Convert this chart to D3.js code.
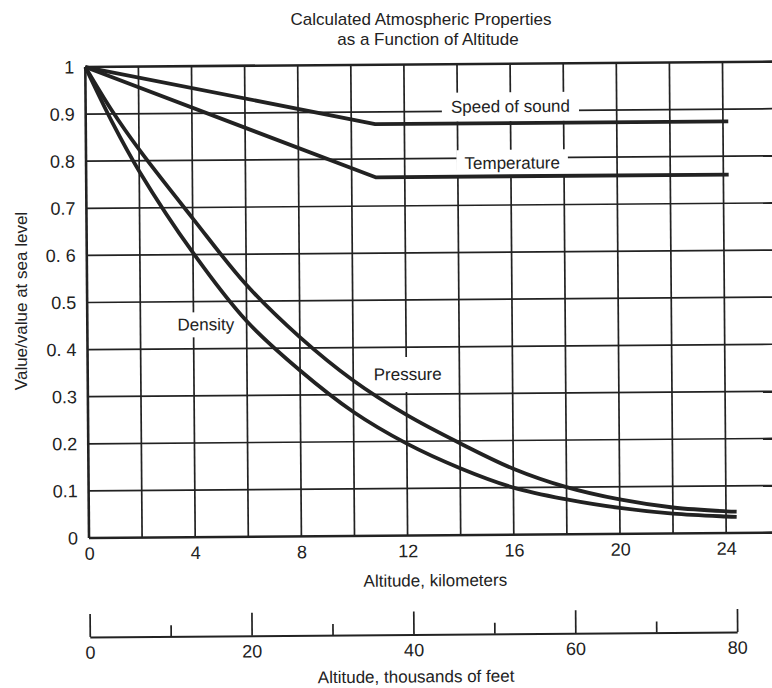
<!DOCTYPE html>
<html>
<head>
<meta charset="utf-8">
<script src="https://cdn.jsdelivr.net/npm/d3@7"></script>
<style>
  body { margin: 0; background: #fff; }
  svg { display: block; font-family: "Liberation Sans", Arial, Helvetica, sans-serif; }
</style>
</head>
<body>
<svg id="chart" width="772" height="688"></svg>
<script>
// values (value / value at sea level)
var altitudeKm = [0, 1, 2, 4, 6, 8, 10, 12, 14, 16, 18, 20, 22, 24, 24.4];
var pressure   = [1.0, 0.906, 0.824, 0.677, 0.535, 0.423, 0.33, 0.256, 0.195, 0.14, 0.10, 0.073, 0.055, 0.046, 0.045];
var density    = [1.0, 0.882, 0.778, 0.604, 0.458, 0.352, 0.263, 0.195, 0.142, 0.10, 0.074, 0.055, 0.042, 0.035, 0.034];

var plateauKm    = [0, 10.9, 24.2];
var speedOfSound = [1.0, 0.874, 0.874];
var temperature  = [1.0, 0.761, 0.761];

var yTicks      = [0, 0.1, 0.2, 0.3, 0.4, 0.5, 0.6, 0.7, 0.8, 0.9, 1];
var yTickLabels = ['0', '0.1', '0.2', '0.3', '0. 4', '0.5', '0. 6', '0.7', '0.8', '0.9', '1'];
var kmGrid      = [0, 2, 4, 6, 8, 10, 12, 14, 16, 18, 20, 22, 24, 26];
var kmTicks     = [0, 4, 8, 12, 16, 20, 24];
var feetMajor   = [0, 20, 40, 60, 80];
var feetMinor   = [10, 30, 50, 70];

var svg = d3.select('#chart');
var ink = '#222';

var x = d3.scaleLinear().domain([0, 27]).range([89, 89 + 27 * 26.55]);
var y = d3.scaleLinear().domain([0, 1]).range([538, 67]);
var xFeet = d3.scaleLinear().domain([0, 80]).range([x(0), x(80 * 0.3048)]);

// the scan is a little tilted, so the whole plot turns round its origin
var plot = svg.append('g')
    .attr('transform', 'rotate(-0.45,' + x(0) + ',' + y(0) + ')');

// grid
plot.selectAll('.hgrid')
    .data(yTicks)
    .enter().append('line')
    .attr('class', 'hgrid')
    .attr('x1', x(0)).attr('x2', x(27))
    .attr('y1', function(d) { return y(d); })
    .attr('y2', function(d) { return y(d); })
    .style('stroke', ink)
    .style('stroke-width', function(d) { return (d === 0 || d === 1) ? 2.6 : 1.7; });

plot.selectAll('.vgrid')
    .data(kmGrid)
    .enter().append('line')
    .attr('class', 'vgrid')
    .attr('x1', function(d) { return x(d); })
    .attr('x2', function(d) { return x(d); })
    .attr('y1', y(0)).attr('y2', y(1))
    .style('stroke', ink)
    .style('stroke-width', function(d) { return d === 0 ? 2.6 : 1.7; });

// curve labels on white patches
var notes = [
  {text: 'Speed of sound', km: 16.0, v: 0.91, padX: 9, padY: 5},
  {text: 'Temperature', km: 16.05, v: 0.79, padX: 8, padY: 4},
  {text: 'Density', km: 4.46, v: 0.452, padX: 5, padY: 3},
  {text: 'Pressure', km: 12.05, v: 0.343, padX: 5, padY: 8}
];
var noteG = plot.selectAll('.note')
    .data(notes)
    .enter().append('g')
    .attr('class', 'note')
    .attr('transform', function(d) { return 'translate(' + x(d.km) + ',' + y(d.v) + ')'; });
noteG.append('rect').style('fill', '#fff');
noteG.append('text')
    .attr('text-anchor', 'middle')
    .attr('dy', '0.36em')
    .style('font-size', '17px')
    .style('fill', ink)
    .text(function(d) { return d.text; });
noteG.each(function(d) {
  var g = d3.select(this);
  var b = g.select('text').node().getBBox();
  g.select('rect')
    .attr('x', b.x - d.padX).attr('y', b.y - d.padY)
    .attr('width', b.width + 2 * d.padX).attr('height', b.height + 2 * d.padY);
});

// curves
var smooth = d3.line()
    .x(function(d, i) { return x(altitudeKm[i]); })
    .y(function(d) { return y(d); })
    .curve(d3.curveCatmullRom.alpha(0.5));
var straight = d3.line()
    .x(function(d, i) { return x(plateauKm[i]); })
    .y(function(d) { return y(d); });

[pressure, density].forEach(function(s) {
  plot.append('path').attr('d', smooth(s))
      .style('fill', 'none').style('stroke', ink).style('stroke-width', 3.8);
});
[speedOfSound, temperature].forEach(function(s) {
  plot.append('path').attr('d', straight(s))
      .style('fill', 'none').style('stroke', ink).style('stroke-width', 3.8)
      .style('stroke-linejoin', 'round');
});

// axes
function styleAxis(g, size) {
  g.select('.domain').remove();
  g.selectAll('text').style('font-size', size + 'px').style('fill', ink)
      .style('font-family', '"Liberation Sans", Arial, Helvetica, sans-serif');
}

plot.append('g')
    .attr('transform', 'translate(' + x(0) + ',0)')
    .call(d3.axisLeft(y).tickValues(yTicks).tickSize(0).tickPadding(11)
          .tickFormat(function(d, i) { return yTickLabels[i]; }))
    .call(styleAxis, 18);

plot.append('g')
    .attr('transform', 'translate(0,' + y(0) + ')')
    .call(d3.axisBottom(x).tickValues(kmTicks).tickSize(0).tickPadding(9))
    .call(styleAxis, 18);

plot.append('text')
    .attr('x', 435).attr('y', 589)
    .attr('text-anchor', 'middle')
    .style('font-size', '17px').style('fill', ink)
    .text('Altitude, kilometers');

// second scale, thousands of feet
var feetY = 637;
plot.append('g')
    .attr('transform', 'translate(0,' + feetY + ')')
    .call(d3.axisTop(xFeet).tickValues(feetMajor).tickSize(23).tickSizeOuter(0).tickFormat(''))
    .call(function(g) {
      g.select('.domain').style('stroke', ink).style('stroke-width', 2);
      g.selectAll('.tick line').style('stroke', ink).style('stroke-width', 1.7);
    });
plot.append('g')
    .attr('transform', 'translate(0,' + feetY + ')')
    .call(d3.axisTop(xFeet).tickValues(feetMinor).tickSize(11).tickFormat(''))
    .call(function(g) {
      g.select('.domain').remove();
      g.selectAll('.tick line').style('stroke', ink).style('stroke-width', 1.7);
    });
plot.append('g')
    .attr('transform', 'translate(0,' + feetY + ')')
    .call(d3.axisBottom(xFeet).tickValues(feetMajor).tickSize(0).tickPadding(9))
    .call(styleAxis, 18);

plot.append('text')
    .attr('x', 415).attr('y', 685)
    .attr('text-anchor', 'middle')
    .style('font-size', '17px').style('fill', ink)
    .text('Altitude, thousands of feet');

// titles
svg.append('text')
    .attr('x', 421).attr('y', 25)
    .attr('text-anchor', 'middle')
    .style('font-size', '17px').style('fill', ink)
    .text('Calculated Atmospheric Properties');
svg.append('text')
    .attr('x', 428).attr('y', 45)
    .attr('text-anchor', 'middle')
    .style('font-size', '17px').style('fill', ink)
    .text('as a Function of Altitude');

svg.append('text')
    .attr('transform', 'translate(27,301) rotate(-90)')
    .attr('text-anchor', 'middle')
    .style('font-size', '17px').style('fill', ink)
    .text('Value/value at sea level');
</script>
</body>
</html>
